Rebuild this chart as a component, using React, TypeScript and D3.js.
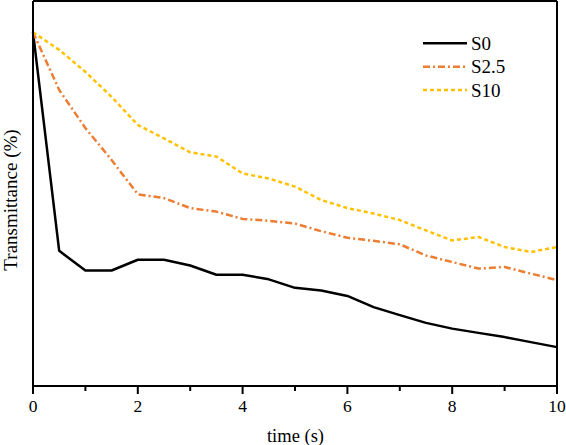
import React from "react";
import * as d3 from "d3";

const times = [0, 0.5, 1, 1.5, 2, 2.5, 3, 3.5, 4, 4.5, 5, 5.5, 6, 6.5, 7, 7.5, 8, 8.5, 9, 9.5, 10];
const s0 = [91.9, 35.1, 30.0, 30.0, 32.8, 32.8, 31.3, 28.9, 28.9, 27.7, 25.5, 24.8, 23.4, 20.5, 18.4, 16.4, 14.9, 13.8, 12.7, 11.4, 10.1];
const s25 = [91.9, 76.9, 67.0, 58.7, 49.8, 48.8, 46.2, 45.3, 43.4, 42.9, 42.2, 40.2, 38.5, 37.7, 36.8, 33.9, 32.2, 30.5, 30.9, 29.2, 27.5];
const s10 = [91.9, 87.3, 81.6, 75.1, 67.8, 64.3, 60.7, 59.6, 55.2, 53.9, 51.8, 48.3, 46.2, 44.8, 43.1, 40.4, 37.8, 38.7, 36.1, 34.8, 36.1];
const seriesNames = ["S0", "S2.5", "S10"];
const seriesColors = ["#000000", "#ED7D31", "#FFC000"];
const seriesDash = ["none", "7,3,2,3", "4,3"];
const majorTicks = [0, 2, 4, 6, 8, 10];
const minorTicks = [1, 3, 5, 7, 9];

const W = 566;
const H = 445;
const left = 33;
const right = 557;
const top = 1;
const bottom = 386;
const font = "Liberation Serif, Times New Roman, Times, serif";

export default function App() {
  const x = d3.scaleLinear().domain([0, 10]).range([left, right]);
  const y = d3.scaleLinear().domain([0, 100]).range([bottom, top]);
  const data = [s0, s25, s10];
  const line = d3
    .line<number>()
    .x((_, i) => x(times[i]))
    .y((d) => y(d))
    .curve(d3.curveLinear);

  const txt = { fontFamily: font } as React.CSSProperties;

  return (
    <svg width={W} height={H} style={{ position: "absolute", left: 0, top: 0, background: "#fff" }}>
      <rect x={0} y={0} width={W} height={H} fill="#fff" />
      {data.map((vals, k) => (
        <path
          key={k}
          d={line(vals) || ""}
          fill="none"
          stroke={seriesColors[k]}
          strokeWidth={2.5}
          strokeDasharray={seriesDash[k]}
          strokeLinejoin="round"
        />
      ))}
      <line x1={left} x2={right} y1={top} y2={top} stroke="#000" strokeWidth={2} />
      <line x1={right} x2={right} y1={top} y2={bottom} stroke="#000" strokeWidth={2} />
      <line x1={left} x2={left} y1={top} y2={bottom} stroke="#000" strokeWidth={2} />
      <line x1={left - 1} x2={right + 1} y1={bottom} y2={bottom} stroke="#000" strokeWidth={2} />
      {majorTicks.map((t) => (
        <g key={"M" + t}>
          <line x1={x(t)} x2={x(t)} y1={bottom} y2={bottom + 8} stroke="#000" strokeWidth={2} />
          <text x={x(t)} y={412} textAnchor="middle" style={txt} fontSize={17.5} fill="#000">
            {t}
          </text>
        </g>
      ))}
      {minorTicks.map((t) => (
        <line key={"m" + t} x1={x(t)} x2={x(t)} y1={bottom} y2={bottom + 5} stroke="#000" strokeWidth={2} />
      ))}
      <text x={295.5} y={442} textAnchor="middle" style={txt} fontSize={18.5} fill="#000">
        time (s)
      </text>
      <text transform={`translate(16.5,200) rotate(-90)`} textAnchor="middle" style={txt} fontSize={19} fill="#000">
        Transmittance (%)
      </text>
      {seriesNames.map((n, k) => {
        const ly = 43.3 + k * 23.4;
        return (
          <g key={n}>
            <line
              x1={423}
              x2={467}
              y1={ly}
              y2={ly}
              stroke={seriesColors[k]}
              strokeWidth={2.5}
              strokeDasharray={seriesDash[k]}
            />
            <text x={471} y={ly + 6.5} style={txt} fontSize={19} fill="#000">
              {n}
            </text>
          </g>
        );
      })}
    </svg>
  );
}
